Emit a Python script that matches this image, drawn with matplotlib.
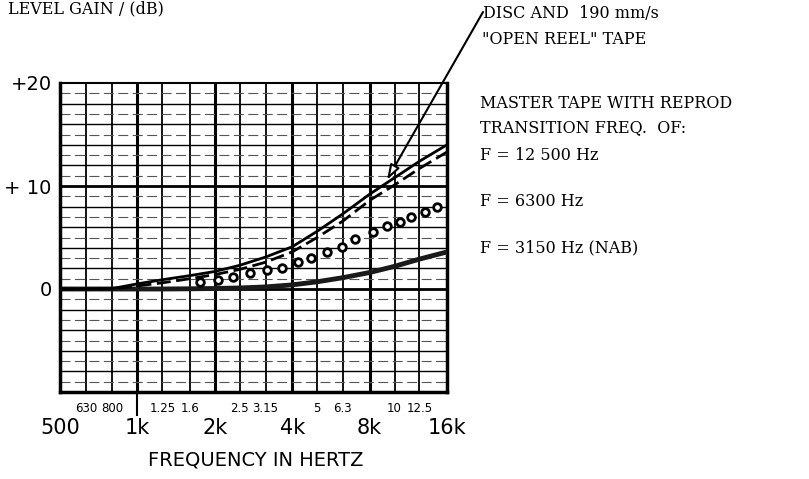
import numpy as np
import matplotlib.pyplot as plt

# third-octave centre frequencies (Hz) and curves (dB)
freqs = [500, 630, 800, 1000, 1250, 1600, 2000, 2500, 3150, 4000,
         5000, 6300, 8000, 10000, 12500, 16000]
disc_db = [0, 0, 0.05, 0.5, 0.9, 1.3, 1.7, 2.3, 3.1, 4.1,
           5.6, 7.3, 9.2, 10.8, 12.4, 14.0]
f12500_db = [0, 0, 0, 0.3, 0.6, 1.0, 1.4, 1.9, 2.6, 3.6,
             5.0, 6.6, 8.6, 10.1, 11.7, 13.3]
nab_db = [0, 0, 0, 0, 0, 0.02, 0.05, 0.1, 0.2, 0.4,
          0.7, 1.1, 1.6, 2.2, 2.9, 3.6]

# F = 6300 Hz curve, drawn as circles
f6300_f = [1750, 2050, 2350, 2750, 3200, 3650, 4200, 4750, 5450, 6250,
           7000, 8250, 9350, 10500, 11600, 13100, 14600]
f6300_db = [0.7, 0.9, 1.2, 1.6, 1.85, 2.0, 2.6, 3.0, 3.6, 4.1,
            4.9, 5.5, 6.1, 6.5, 7.0, 7.5, 8.0]

major_f = [500, 1000, 2000, 4000, 8000, 16000]
major_lab = ["500", "1k", "2k", "4k", "8k", "16k"]
minor_f = [630, 800, 1250, 1600, 2500, 3150, 5000, 6300, 10000, 12500]
minor_lab = ["630", "800", "1.25", "1.6", "2.5", "3.15", "5", "6.3", "10", "12.5"]

y_ticks = [0, 10, 20]
y_labs = ["0", "+ 10", "+20"]

W, H = 809, 479
fig = plt.figure(figsize=(W / 100, H / 100), dpi=100)
ax = fig.add_axes([60 / W, (H - 392) / H, (447 - 60) / W, (392 - 83) / H])
ax.set_xscale("log", base=2)
ax.set_xlim(500, 16000)
ax.set_ylim(-10, 20)

# graph paper
for f in freqs[1:-1]:
    ax.axvline(f, color="black", lw=2.2 if f in major_f else 1.3, zorder=1)
for d in range(-9, 20):
    if d % 10 == 0:
        ax.axhline(d, color="black", lw=2.0, zorder=1)
    elif d % 2 == 0:
        ax.axhline(d, color="black", lw=1.0, zorder=1)
    else:
        ax.axhline(d, color="#555555", lw=0.8, ls=(0, (9, 4)), zorder=1)

for side in ["left", "bottom", "right"]:
    ax.spines[side].set_linewidth(2.5)
ax.spines["top"].set_linewidth(1.5)

# curves
ax.plot(freqs, nab_db, color="#1a1a1a", lw=3.5, zorder=3)
ax.plot(freqs, f12500_db, color="black", lw=2, ls=(0, (5, 2)), zorder=3)
ax.plot(freqs, disc_db, color="black", lw=2, zorder=4)
ax.plot(f6300_f, f6300_db, "o", ms=5.5, mfc="white", mec="black", mew=2,
        ls="none", zorder=4)

# ticks
ax.set_xticks(major_f, major_lab)
ax.set_xticks(minor_f, minor_lab, minor=True)
ax.tick_params(axis="x", which="major", length=0, pad=19, labelsize=15)
ax.tick_params(axis="x", which="minor", length=0, pad=7, labelsize=8.5)
ax.set_yticks(y_ticks, y_labs)
ax.tick_params(axis="y", length=0, pad=6, labelsize=14)
ax.plot([1000, 1000], [-10, -12.2], color="black", lw=1.5, clip_on=False)

fig.text(256 / W, 1 - 460 / H, "FREQUENCY IN HERTZ", ha="center", va="center",
         fontsize=14)
fig.text(8 / W, 1 - 13 / H, "LEVEL GAIN / (dB)", ha="left", va="baseline",
         fontsize=11.5, family="DejaVu Serif")

serif = dict(family="DejaVu Serif", fontsize=11.5, ha="left", va="center")
fig.text(483 / W, 1 - 14 / H, "DISC AND  190 mm/s", **serif)
fig.text(482 / W, 1 - 39 / H, "\"OPEN REEL\" TAPE", **serif)
fig.text(480 / W, 1 - 103 / H, "MASTER TAPE WITH REPROD", **serif)
fig.text(480 / W, 1 - 128 / H, "TRANSITION FREQ.  OF:", **serif)
fig.text(480 / W, 1 - 155 / H, "F = 12 500 Hz", **serif)
fig.text(480 / W, 1 - 202 / H, "F = 6300 Hz", **serif)
fig.text(480 / W, 1 - 248 / H, "F = 3150 Hz (NAB)", **serif)

ax.annotate("", xy=(9350, 10.6), xytext=(483, H - 12), textcoords="figure pixels",
            arrowprops=dict(arrowstyle="-|>,head_length=0.9,head_width=0.3",
                            fc="white", ec="black", lw=1.5, shrinkA=0, shrinkB=0),
            annotation_clip=False, zorder=5)

fig.savefig("out.png", dpi=100)
